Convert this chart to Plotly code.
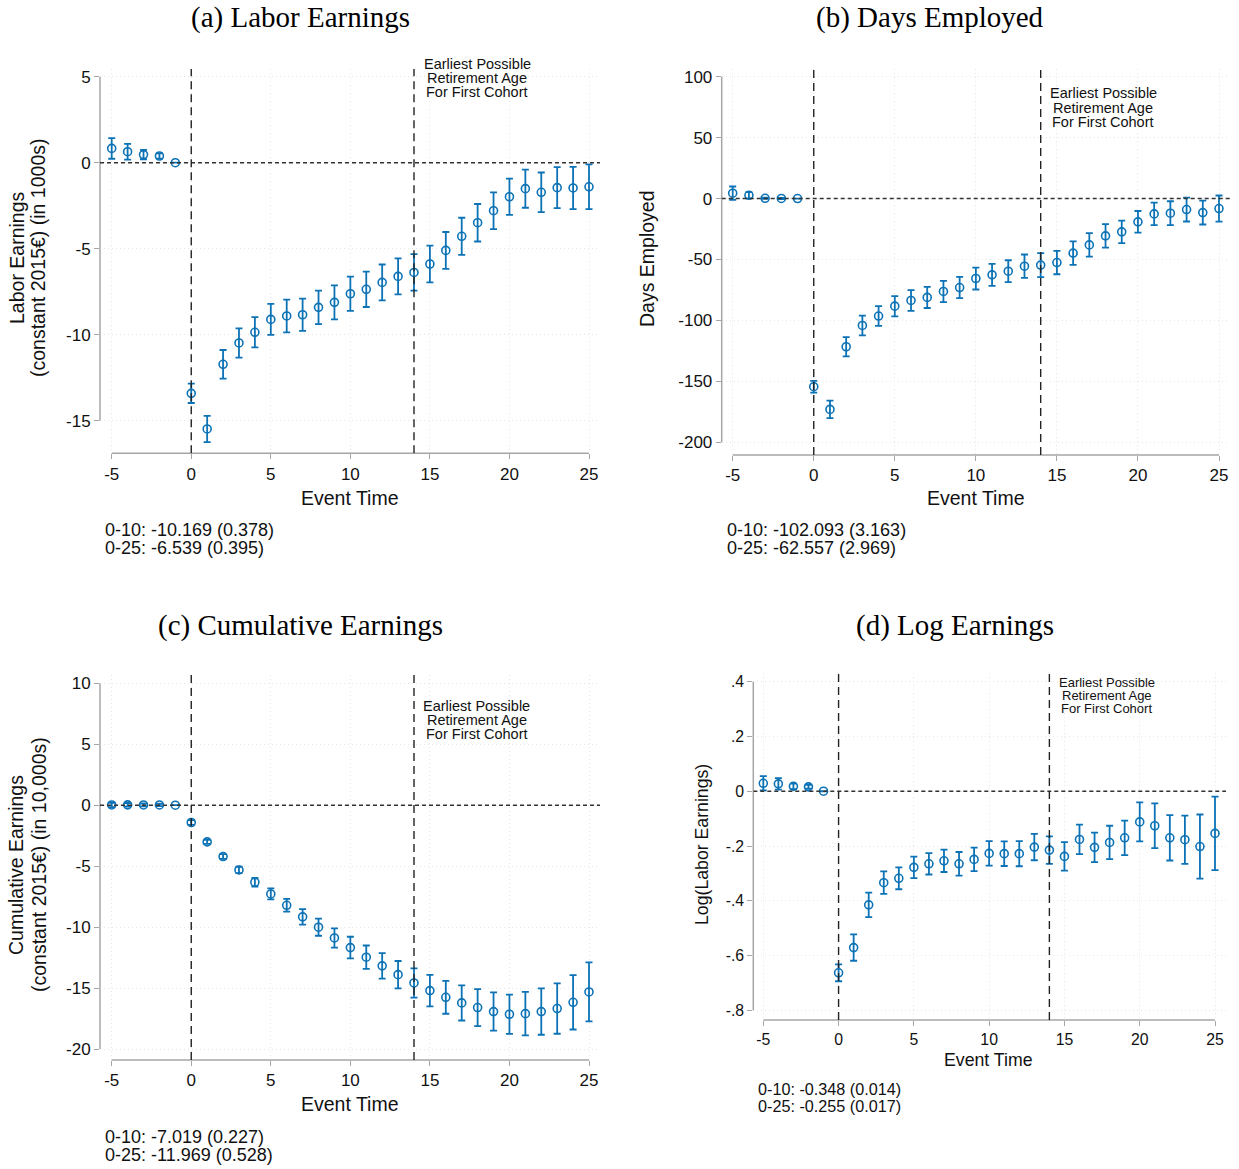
import plotly.graph_objects as go

# ---------------- data ----------------
EVENT_TIME = [-5, -4, -3, -2, -1, 0, 1, 2, 3, 4, 5, 6, 7, 8, 9, 10, 11, 12, 13, 14,
              15, 16, 17, 18, 19, 20, 21, 22, 23, 24, 25]
X_TICKS = [-5, 0, 5, 10, 15, 20, 25]
X_TICKTEXT = ["-5", "0", "5", "10", "15", "20", "25"]
RETIRE_T = 14

# (a) Labor Earnings (1000s)
EARN_EST = [0.83, 0.64, 0.47, 0.39, 0.0, -13.41, -15.48, -11.72, -10.48, -9.86, -9.11,
            -8.91, -8.84, -8.41, -8.12, -7.62, -7.36, -6.96, -6.61, -6.38, -5.89, -5.10,
            -4.28, -3.49, -2.79, -1.98, -1.51, -1.72, -1.45, -1.47, -1.40]
EARN_CI = [0.60, 0.46, 0.27, 0.15, 0.0, 0.56, 0.76, 0.83, 0.85, 0.88, 0.90, 0.95, 0.94,
           0.97, 0.99, 1.00, 1.03, 1.04, 1.05, 1.06, 1.07, 1.07, 1.08, 1.09, 1.07, 1.05,
           1.11, 1.15, 1.19, 1.23, 1.30]
EARN_TICKS = [-15, -10, -5, 0, 5]
EARN_TICKTEXT = ["-15", "-10", "-5", "0", "5"]

# (b) Days Employed
DAYS_EST = [4.4, 2.7, 0.2, 0.1, 0.0, -154.4, -173.0, -121.6, -104.1, -96.4, -88.3,
            -83.6, -81.1, -76.2, -73.0, -65.6, -62.6, -59.6, -55.5, -54.6, -52.5, -44.8,
            -38.0, -30.6, -27.3, -19.1, -12.6, -12.0, -9.0, -11.5, -8.2]
DAYS_CI = [5.5, 2.6, 0.5, 0.5, 0.0, 4.8, 7.2, 7.9, 8.1, 8.1, 8.3, 8.5, 8.7, 8.7, 8.7,
           9.0, 9.0, 9.0, 9.6, 9.8, 9.6, 9.6, 9.6, 9.6, 9.2, 8.9, 9.2, 9.8, 9.8, 9.8, 10.7]
DAYS_TICKS = [-200, -150, -100, -50, 0, 50, 100]
DAYS_TICKTEXT = ["-200", "-150", "-100", "-50", "0", "50", "100"]

# (c) Cumulative Earnings (10,000s)
CUM_EST = [0.02, 0.03, 0.02, 0.02, 0.0, -1.42, -3.01, -4.21, -5.31, -6.32, -7.28,
           -8.21, -9.16, -10.01, -10.89, -11.68, -12.47, -13.18, -13.90, -14.58, -15.21,
           -15.76, -16.22, -16.60, -16.93, -17.15, -17.10, -16.93, -16.68, -16.17, -15.32]
CUM_CI = [0.18, 0.15, 0.12, 0.1, 0.0, 0.2, 0.16, 0.2, 0.26, 0.36, 0.45, 0.52, 0.63, 0.70,
          0.79, 0.89, 0.96, 1.04, 1.12, 1.20, 1.29, 1.35, 1.44, 1.52, 1.57, 1.61, 1.78,
          1.90, 2.07, 2.23, 2.42]
CUM_TICKS = [-20, -15, -10, -5, 0, 5, 10]
CUM_TICKTEXT = ["-20", "-15", "-10", "-5", "0", "5", "10"]

# (d) Log Earnings
LOG_EST = [0.029, 0.027, 0.018, 0.016, 0.0, -0.663, -0.571, -0.415, -0.334, -0.318,
           -0.278, -0.265, -0.254, -0.265, -0.249, -0.227, -0.228, -0.228, -0.204,
           -0.215, -0.238, -0.176, -0.205, -0.187, -0.170, -0.112, -0.126, -0.170,
           -0.177, -0.202, -0.154]
LOG_CI = [0.026, 0.021, 0.010, 0.007, 0.0, 0.031, 0.048, 0.045, 0.041, 0.040, 0.039,
          0.039, 0.041, 0.043, 0.043, 0.045, 0.045, 0.046, 0.048, 0.050, 0.052, 0.054,
          0.054, 0.061, 0.063, 0.071, 0.082, 0.083, 0.088, 0.117, 0.134]
LOG_TICKS = [-0.8, -0.6, -0.4, -0.2, 0, 0.2, 0.4]
LOG_TICKTEXT = ["-.8", "-.6", "-.4", "-.2", "0", ".2", ".4"]

TITLES = ["(a) Labor Earnings", "(b) Days Employed", "(c) Cumulative Earnings", "(d) Log Earnings"]
YTITLES = [["Labor Earnings", "(constant 2015€) (in 1000s)"],
           ["Days Employed"],
           ["Cumulative Earnings", "(constant 2015€) (in 10,000s)"],
           ["Log(Labor Earnings)"]]
STATS = [["0-10: -10.169 (0.378)", "0-25: -6.539 (0.395)"],
         ["0-10: -102.093 (3.163)", "0-25: -62.557 (2.969)"],
         ["0-10: -7.019 (0.227)", "0-25: -11.969 (0.528)"],
         ["0-10: -0.348 (0.014)", "0-25: -0.255 (0.017)"]]
RETIRE_LINES = ["Earliest Possible", "Retirement Age", "For First Cohort"]

# ---------------- layout geometry (pixels) ----------------
W, H = 1239, 1169
BLUE = "#0c72b6"
AXC = "#a6a6a6"
TXT = "#111111"
SANS = "Liberation Sans, Arial, sans-serif"
SERIF = "Liberation Serif, Times New Roman, serif"

def px(x):
    return x / W

def py(y):
    return 1 - y / H

panels = [
    dict(est=EARN_EST, ci=EARN_CI, ticks=EARN_TICKS, ticktext=EARN_TICKTEXT,
         box=(100, 600, 69, 453.3), xt=(111.7, 589), yt=(76.7, 420.7),
         title=(300, 18), evt=(350, 498), stats=(103, 530, 548),
         ytl=[(17, 258), (38, 258)], ret=(477, [64, 77.5, 92]),
         fs=dict(tick=17, lab=19.5, stat=18, ret=14.5)),
    dict(est=DAYS_EST, ci=DAYS_CI, ticks=DAYS_TICKS, ticktext=DAYS_TICKTEXT,
         box=(721.7, 1230, 69, 455), xt=(732.7, 1219), yt=(76.7, 442.3),
         title=(930, 18), evt=(976, 498), stats=(725, 530, 548),
         ytl=[(647, 259)], ret=(1103, [93.3, 108.3, 122.3]),
         fs=dict(tick=17, lab=19.5, stat=18, ret=14.5)),
    dict(est=CUM_EST, ci=CUM_CI, ticks=CUM_TICKS, ticktext=CUM_TICKTEXT,
         box=(100, 600, 675, 1060), xt=(111.7, 589), yt=(683.3, 1049),
         title=(300, 625), evt=(350, 1104), stats=(103, 1137, 1155),
         ytl=[(16, 865), (39, 865)], ret=(476.7, [705.7, 720, 734.3]),
         fs=dict(tick=17, lab=19.5, stat=18, ret=14.5)),
    dict(est=LOG_EST, ci=LOG_CI, ticks=LOG_TICKS, ticktext=LOG_TICKTEXT,
         box=(753.3, 1226, 673, 1020), xt=(763.3, 1215), yt=(681.7, 1010.3),
         title=(955, 625), evt=(988, 1060), stats=(756, 1089, 1106),
         ytl=[(702, 845)], ret=(1106.7, [682.7, 695.7, 708.3]),
         fs=dict(tick=15.8, lab=17.7, stat=16.2, ret=13)),
]

fig = go.Figure()
shapes = []
annotations = []
layout_axes = {}

for i, p in enumerate(panels):
    n = "" if i == 0 else str(i + 1)
    xa, ya = "x" + n, "y" + n
    L, R, T, B = p["box"]
    x0p, x1p = p["xt"]
    xmin, xmax = X_TICKS[0], X_TICKS[-1]
    sx = (x1p - x0p) / (xmax - xmin)
    xr = [xmin - (x0p - L) / sx, xmax + (R - x1p) / sx]
    y0p, y1p = p["yt"]
    ymax, ymin = max(p["ticks"]), min(p["ticks"])
    sy = (y1p - y0p) / (ymax - ymin)
    yr = [ymin - (B - y1p) / sy, ymax + (y0p - T) / sy]

    fig.add_trace(go.Scatter(
        x=EVENT_TIME, y=p["est"], mode="markers", xaxis=xa, yaxis=ya,
        marker=dict(symbol="circle-open", size=8, color=BLUE, line=dict(width=1.6)),
        error_y=dict(type="data", array=p["ci"], color=BLUE, thickness=1.8, width=3.5),
        showlegend=False, hoverinfo="skip"))

    grid = dict(showgrid=True, gridcolor="#e6e6e6", gridwidth=1, griddash="1px,3px")
    layout_axes["xaxis" + n] = dict(
        domain=[px(L), px(R)], anchor=ya, range=xr,
        tickmode="array", tickvals=X_TICKS, ticktext=X_TICKTEXT,
        ticks="outside", ticklen=5, tickwidth=1.3, tickcolor=AXC,
        showline=False, zeroline=False,
        tickfont=dict(family=SANS, size=p["fs"]["tick"], color=TXT), **grid)
    layout_axes["yaxis" + n] = dict(
        domain=[py(B), py(T)], anchor=xa, range=yr,
        tickmode="array", tickvals=p["ticks"], ticktext=p["ticktext"],
        ticks="outside", ticklen=5, tickwidth=1.3, tickcolor=AXC,
        showline=False, zeroline=False,
        tickfont=dict(family=SANS, size=p["fs"]["tick"], color=TXT), **grid)

    # axis lines spanning the tick ranges (paper coordinates -> no clipping)
    shapes.append(dict(type="line", xref="paper", yref="paper",
                       x0=px(L), x1=px(L), y0=py(y0p), y1=py(y1p),
                       line=dict(color=AXC, width=1.5), layer="above"))
    shapes.append(dict(type="line", xref="paper", yref="paper",
                       x0=px(x0p), x1=px(x1p), y0=py(B), y1=py(B),
                       line=dict(color=AXC, width=1.5), layer="above"))
    # zero reference line across the plot region
    shapes.append(dict(type="line", xref=xa, yref=ya, x0=xr[0], x1=xr[1], y0=0, y1=0,
                       line=dict(color="#333333", width=1.4, dash="4px,3px"), layer="above"))
    # event and retirement lines
    for xv in (0, RETIRE_T):
        shapes.append(dict(type="line", xref=xa, yref=ya, x0=xv, x1=xv, y0=yr[0], y1=yr[1],
                           line=dict(color="#222222", width=1.4, dash="8px,5px"), layer="above"))

    tx, ty = p["title"]
    annotations.append(dict(text=TITLES[i], x=px(tx), y=py(ty), xref="paper", yref="paper",
                            xanchor="center", yanchor="middle", showarrow=False,
                            font=dict(family=SERIF, size=29, color="#000000")))
    ex, ey = p["evt"]
    annotations.append(dict(text="Event Time", x=px(ex), y=py(ey), xref="paper", yref="paper",
                            xanchor="center", yanchor="middle", showarrow=False,
                            font=dict(family=SANS, size=p["fs"]["lab"], color=TXT)))
    for (lx, ly), line in zip(p["ytl"], YTITLES[i]):
        annotations.append(dict(text=line, x=px(lx), y=py(ly), xref="paper", yref="paper",
                                xanchor="center", yanchor="middle", showarrow=False,
                                textangle=-90,
                                font=dict(family=SANS, size=p["fs"]["lab"], color=TXT)))
    sxp, s1, s2 = p["stats"]
    for yy, line in zip((s1, s2), STATS[i]):
        annotations.append(dict(text=line, x=px(sxp), y=py(yy), xref="paper", yref="paper",
                                xanchor="left", yanchor="middle", showarrow=False,
                                font=dict(family=SANS, size=p["fs"]["stat"], color=TXT)))
    rx, rys = p["ret"]
    for yy, line in zip(rys, RETIRE_LINES):
        annotations.append(dict(text=line, x=px(rx), y=py(yy), xref="paper", yref="paper",
                                xanchor="center", yanchor="middle", showarrow=False,
                                font=dict(family=SANS, size=p["fs"]["ret"], color=TXT)))

fig.update_layout(
    width=W, height=H, margin=dict(l=0, r=0, t=0, b=0),
    paper_bgcolor="white", plot_bgcolor="white",
    shapes=shapes, annotations=annotations, showlegend=False,
    **layout_axes)

fig.write_html("out.html", config={"displayModeBar": False},
               post_script="document.body.style.margin='0px';document.body.style.overflow='hidden';")
